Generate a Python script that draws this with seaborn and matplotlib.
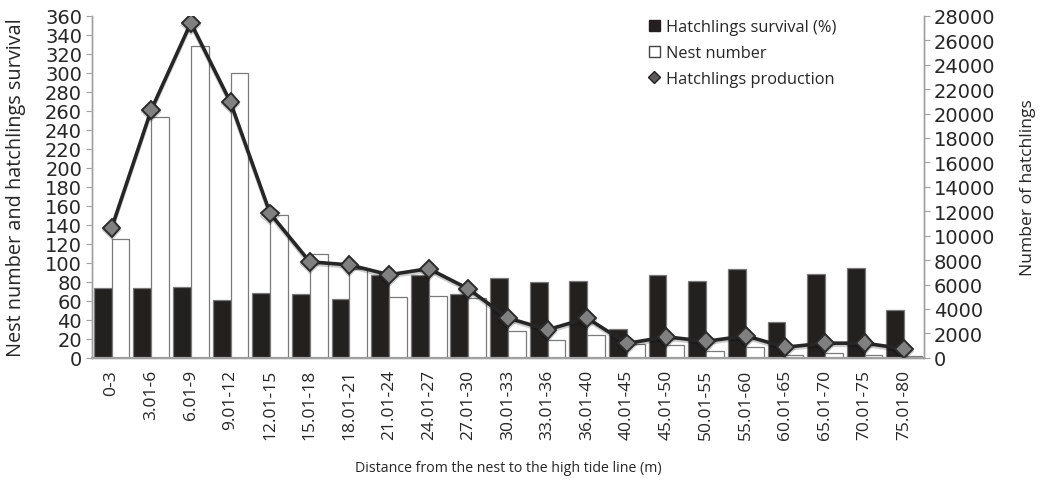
import numpy as np
import pandas as pd
import matplotlib
matplotlib.use("Agg")
import matplotlib.pyplot as plt
import matplotlib.patheffects as pe
from matplotlib.patches import Patch
from matplotlib.lines import Line2D
import seaborn as sns

# ── data ──────────────────────────────────────
ranges = ["0-3", "3.01-6", "6.01-9", "9.01-12", "12.01-15", "15.01-18",
          "18.01-21", "21.01-24", "24.01-27", "27.01-30", "30.01-33",
          "33.01-36", "36.01-40", "40.01-45", "45.01-50", "50.01-55",
          "55.01-60", "60.01-65", "65.01-70", "70.01-75", "75.01-80"]
survival = [74, 73, 75, 61, 68, 67, 62, 87, 87, 67, 84,
            80, 81, 30, 87, 81, 93, 38, 88, 95, 50]
nests = [125, 254, 328, 300, 150, 109, 93, 64, 65, 63, 28,
         19, 24, 15, 13, 7, 11, 3, 5, 3, 2]
production = [10620, 20300, 27430, 20930, 11820, 7860, 7610, 6800, 7300, 5650, 3260,
              2300, 3250, 1180, 1720, 1350, 1800, 870, 1200, 1200, 740]
left_ticks = list(range(0, 361, 20))
right_ticks = list(range(0, 28001, 2000))

S_LAB = "Hatchlings survival (%)"
N_LAB = "Nest number"
P_LAB = "Hatchlings production"

sns.set_style("white")
# wide face for the y tick numbers, Open Sans for everything else
plt.rcParams["font.family"] = ["DejaVu Sans"]
TXT = ["Open Sans", "DejaVu Sans"]

df = pd.DataFrame({
    "range": ranges * 2,
    "value": survival + nests,
    "series": [S_LAB] * len(ranges) + [N_LAB] * len(ranges),
})

fig, ax = plt.subplots(figsize=(10.43, 4.81), dpi=100)
fig.subplots_adjust(left=0.088, right=0.886, top=0.965, bottom=0.254)

sns.barplot(data=df, x="range", y="value", hue="series", order=ranges,
            hue_order=[S_LAB, N_LAB],
            palette={S_LAB: "#231f20", N_LAB: "white"},
            width=0.9, edgecolor="#7a7a7a", linewidth=0.9,
            legend=False, ax=ax, errorbar=None)

ax.set_ylim(0, 360)
ax.set_yticks(left_ticks)
ax.set_xlim(-0.5, len(ranges) - 0.5)
ax.set_xticks(range(len(ranges)), labels=ranges, family=TXT,
              fontsize=12.5, rotation=90)
ax.set_xlabel("Distance from the nest to the high tide line (m)",
              fontsize=10.2, family=TXT)
ax.xaxis.set_label_coords(0.5, -0.30)
ax.set_ylabel("Nest number and hatchlings survival", fontsize=14.3, family=TXT)
ax.yaxis.set_label_coords(-0.079, 0.5)
ax.tick_params(axis="y", labelsize=14, length=4, color="#a0a0a0",
               direction="out", left=True, pad=3)
ax.tick_params(axis="x", length=0, pad=8)

ax2 = ax.twinx()
sns.lineplot(x=np.arange(len(ranges)), y=production, ax=ax2,
             color="#262626", lw=2.6, marker="D", markersize=9,
             markerfacecolor="#808080", markeredgecolor="#2a2a2a",
             markeredgewidth=1.4,
             path_effects=[pe.SimpleLineShadow(offset=(0, -1.5), alpha=0.2), pe.Normal()])
ax2.set_ylim(0, 28000)
ax2.set_yticks(right_ticks)
ax2.set_ylabel("Number of hatchlings", fontsize=12.6, family=TXT)
ax2.yaxis.set_label_coords(1.115, 0.5)
ax2.tick_params(axis="y", labelsize=14, length=4, color="#a0a0a0",
                direction="out", right=True, pad=3)

for a in (ax, ax2):
    a.spines["top"].set_visible(False)
    for side in ("left", "right", "bottom"):
        a.spines[side].set_color("#a0a0a0")
        a.spines[side].set_linewidth(1.0)
ax.spines["bottom"].set_linewidth(1.6)

handles = [
    Patch(facecolor="#231f20", edgecolor="#231f20"),
    Patch(facecolor="white", edgecolor="#444444"),
    Line2D([], [], ls="none", marker="D", markersize=6,
           markerfacecolor="#5a5a5a", markeredgecolor="#231f20"),
]
fig.legend(handles, [S_LAB, N_LAB, P_LAB], loc="upper left",
           bbox_to_anchor=(0.622, 0.958), frameon=False,
           prop={"family": TXT, "size": 11.8},
           handlelength=0.7, handleheight=0.7, handletextpad=0.35,
           labelspacing=0.6, borderaxespad=0, borderpad=0)

plt.savefig("out.png", dpi=100)
plt.close()
